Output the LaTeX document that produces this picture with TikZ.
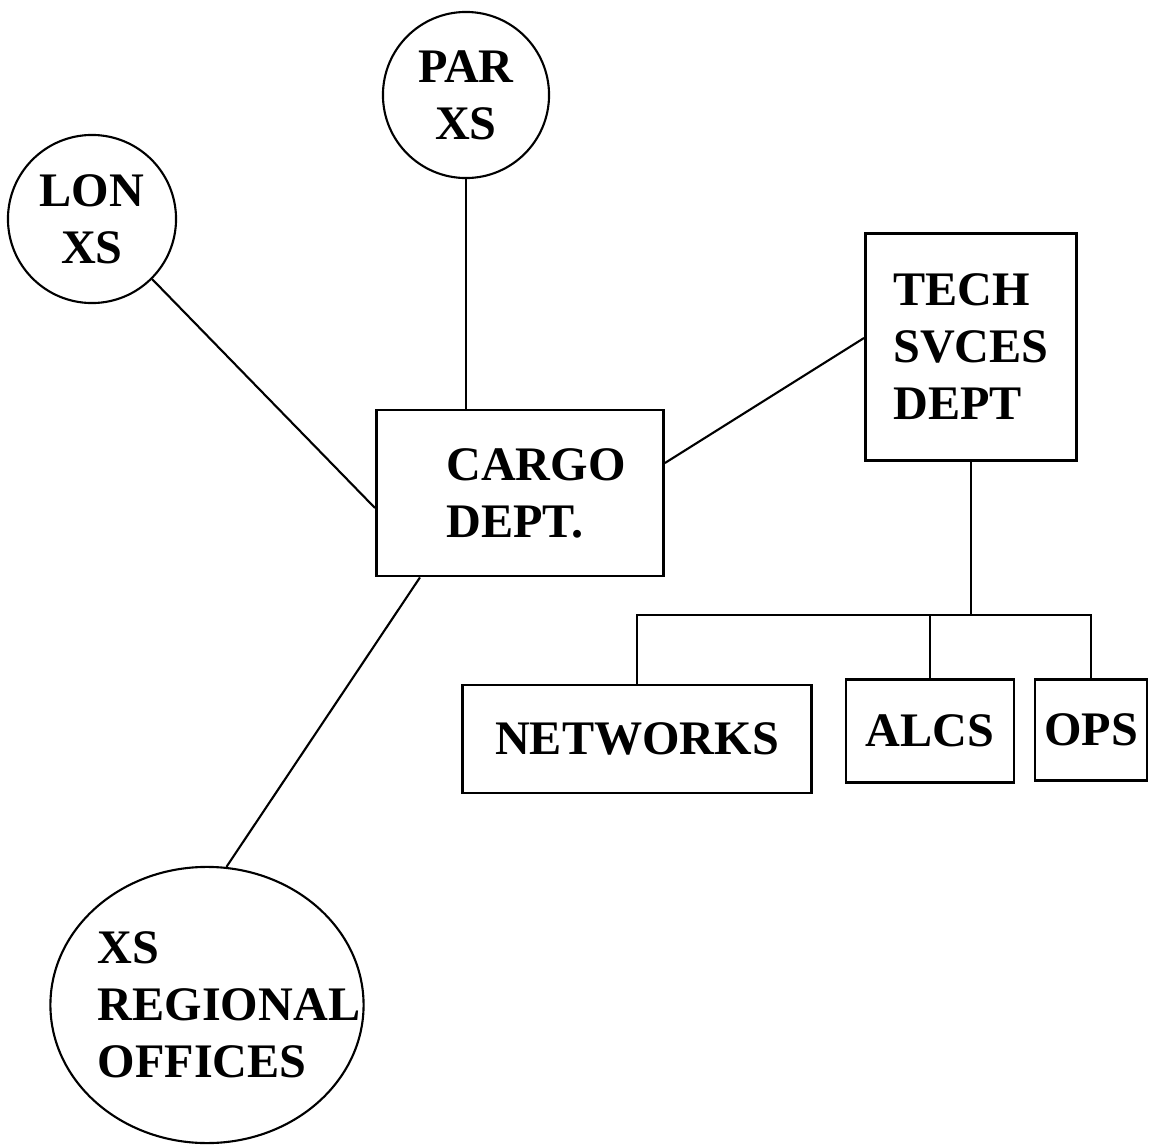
\documentclass[tikz,border=0pt]{standalone}
\usepackage{fontspec}
\setmainfont{Liberation Serif}
\usetikzlibrary{shapes.geometric}

\tikzset{
  lbl/.style={font=\bfseries\fontsize{13.7}{16.2}\selectfont, align=left, inner sep=0pt},
  box/.style={lbl, draw, line width=0.8pt, rectangle},
  circ/.style={lbl, draw, line width=0.6pt, circle, align=center},
  oval/.style={draw, line width=0.6pt, ellipse, inner sep=0pt},
  link/.style={line width=0.6pt}
}

\begin{document}
\begin{tikzpicture}[x=0.01cm, y=-0.01cm]
  \useasboundingbox (0,0) rectangle (1150,1145);
  % outer offices
  \node[circ, minimum size=1.66cm] (par) at (466,95) {PAR\\XS};
  \node[circ, minimum size=1.68cm] (lon) at (92,219) {LON\\XS};
  \node[oval, minimum width=3.13cm, minimum height=2.76cm] (regional) at (207,1005) {};
  \node[lbl] (regionaltxt) at ([xshift=0.22cm]regional.center) {XS\\REGIONAL\\OFFICES};
  % departments
  \node[box, minimum width=2.87cm, minimum height=1.66cm] (cargo) at (520,493) {\hspace*{0.32cm}CARGO\\\hspace*{0.32cm}DEPT.};
  \node[box, minimum width=2.11cm, minimum height=2.27cm] (tech) at (971,347) {TECH\\SVCES\\DEPT};
  \node[box, minimum width=3.49cm, minimum height=1.08cm] (networks) at (637,739) {NETWORKS};
  \node[box, minimum width=1.68cm, minimum height=1.03cm] (alcs) at (930,731) {ALCS};
  \node[box, minimum width=1.12cm, minimum height=1.01cm] (ops) at (1091,730) {OPS};
  \coordinate (bus) at (966,615);

  \draw[link] (lon.south east) -- ([yshift=-15*0.01cm]cargo.west);
  \draw[link] (par.south) -- (par.south |- cargo.north);
  \draw[link] ([yshift=0.3cm]cargo.east) -- ([yshift=0.09cm]tech.west);
  \draw[link] ([xshift=-1cm]cargo.south) -- (regional.82);
  % tech tree
  \draw[link] (tech.south) -- (tech.south |- bus);
  \draw[link] (networks.north) -- (networks.north |- bus) -- (ops.north |- bus) -- (ops.north);
  \draw[link] (alcs.north) -- (alcs.north |- bus);
\end{tikzpicture}
\end{document}
